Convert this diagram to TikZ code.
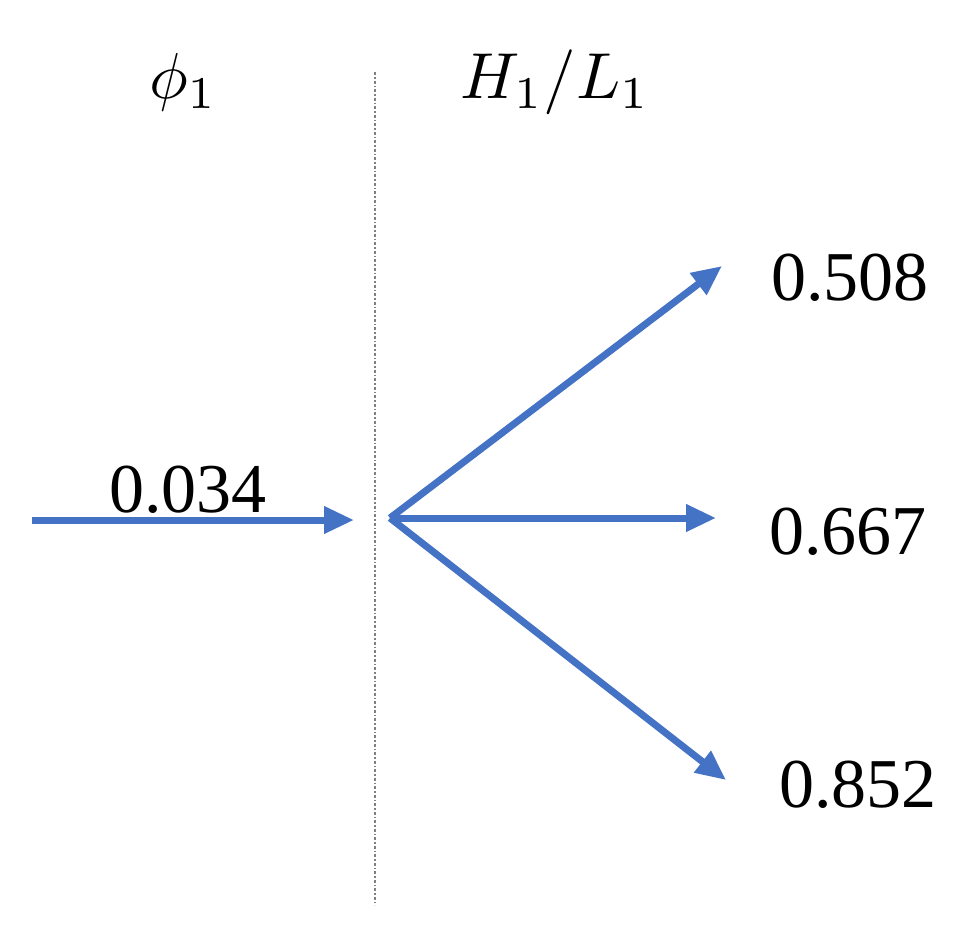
\documentclass[tikz,border=0pt]{standalone}
\usepackage{graphicx}
\usepackage{fontspec}
\setmainfont{Liberation Serif}
\usetikzlibrary{arrows.meta}
\definecolor{arrblue}{RGB}{68,114,196}
\begin{document}
\begin{tikzpicture}[x=1pt,y=-1pt,
  lbl/.style={font=\fontsize{70}{76}\selectfont, inner sep=0pt},
  mlbl/.style={inner sep=0pt},
  arr/.style={draw=arrblue, line width=7pt, -{Triangle[length=30pt,width=26pt]}}]
\useasboundingbox (0,0) rectangle (968,930);
\node[mlbl] (phi) at (183,82) {\scalebox{6.5}{$\phi_1$}};
\node[mlbl] (hl) at (555,82) {\scalebox{6.5}{$H_1/L_1$}};
\draw[gray, line width=1.5pt, dash dot] (375,72) -- (375,905);
\coordinate (in) at (32,520);
\coordinate (inend) at (354,520);
\coordinate (o) at (390,518);
\node[lbl] (v0) at (188,490) {0.034};
\node[lbl] (a) at (850,278) {0.508};
\node[lbl] (b) at (848,532) {0.667};
\node[lbl] (c) at (858,785) {0.852};
\coordinate (ea) at (722,266);
\coordinate (eb) at (716,518);
\coordinate (ec) at (726,780);
\draw[arr] (in) -- (inend);
\draw[arr] (o) -- (ea);
\draw[arr] (o) -- (eb);
\draw[arr] (o) -- (ec);
\end{tikzpicture}
\end{document}
